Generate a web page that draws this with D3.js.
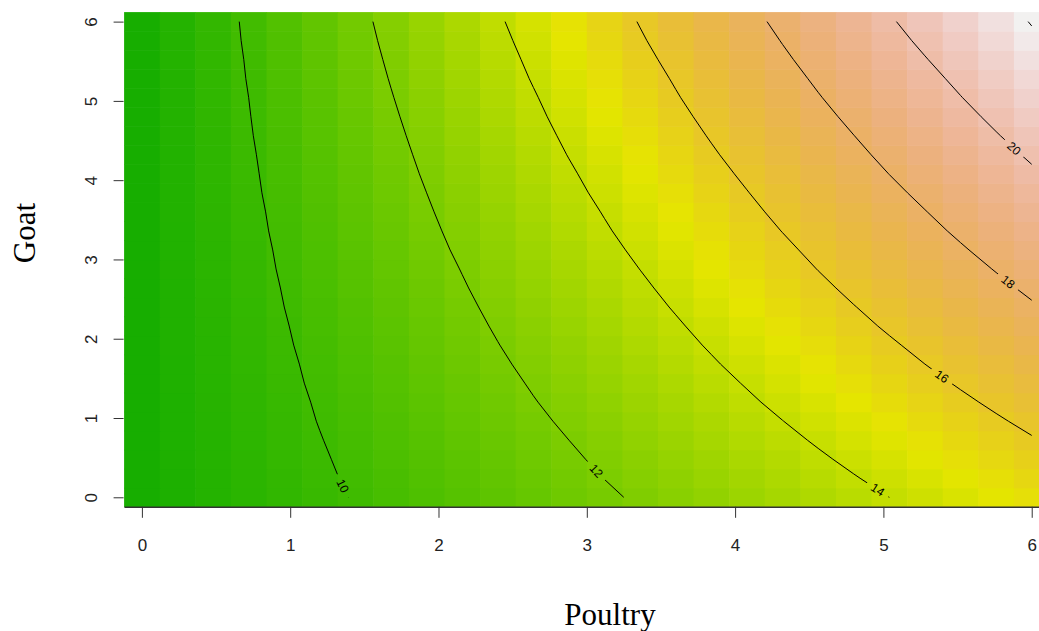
<!DOCTYPE html>
<html>
<head>
<meta charset="utf-8">
<script src="https://cdn.jsdelivr.net/npm/d3@7"></script>
<style>
body { margin: 0; background: #fff; }
svg { display: block; }
</style>
</head>
<body>
<div id="chart"></div>
<script>
// grid values (cell centres) on both axes
const poultry = [0, 0.24, 0.48, 0.72, 0.96, 1.2, 1.44, 1.68, 1.92, 2.16, 2.4, 2.64, 2.88,
                 3.12, 3.36, 3.6, 3.84, 4.08, 4.32, 4.56, 4.8, 5.04, 5.28, 5.52, 5.76, 6];
const goat = [0, 0.24, 0.48, 0.72, 0.96, 1.2, 1.44, 1.68, 1.92, 2.16, 2.4, 2.64, 2.88,
              3.12, 3.36, 3.6, 3.84, 4.08, 4.32, 4.56, 4.8, 5.04, 5.28, 5.52, 5.76, 6];

// one row per goat value (bottom to top), one entry per poultry value
const zRows = [
  [8.55, 8.80, 9.05, 9.30, 9.55, 9.80, 10.05, 10.31, 10.56, 10.82, 11.08, 11.34, 11.60, 11.86, 12.12, 12.39, 12.65, 12.92, 13.19, 13.45, 13.72, 14.00, 14.27, 14.54, 14.81, 15.09],
  [8.55, 8.81, 9.07, 9.33, 9.59, 9.86, 10.12, 10.39, 10.65, 10.92, 11.19, 11.46, 11.73, 12.01, 12.28, 12.56, 12.83, 13.11, 13.39, 13.67, 13.95, 14.23, 14.51, 14.80, 15.08, 15.37],
  [8.55, 8.82, 9.09, 9.36, 9.64, 9.91, 10.19, 10.47, 10.74, 11.02, 11.30, 11.59, 11.87, 12.15, 12.44, 12.72, 13.01, 13.30, 13.59, 13.88, 14.17, 14.47, 14.76, 15.06, 15.35, 15.65],
  [8.55, 8.83, 9.11, 9.40, 9.68, 9.97, 10.26, 10.54, 10.83, 11.12, 11.42, 11.71, 12.00, 12.30, 12.60, 12.89, 13.19, 13.49, 13.79, 14.09, 14.40, 14.70, 15.01, 15.32, 15.62, 15.93],
  [8.55, 8.84, 9.14, 9.43, 9.73, 10.03, 10.32, 10.62, 10.92, 11.23, 11.53, 11.83, 12.14, 12.45, 12.75, 13.06, 13.37, 13.68, 13.99, 14.31, 14.62, 14.94, 15.26, 15.57, 15.89, 16.21],
  [8.55, 8.85, 9.16, 9.47, 9.77, 10.08, 10.39, 10.70, 11.01, 11.33, 11.64, 11.96, 12.27, 12.59, 12.91, 13.23, 13.55, 13.87, 14.20, 14.52, 14.85, 15.17, 15.50, 15.83, 16.16, 16.49],
  [8.55, 8.87, 9.18, 9.50, 9.82, 10.14, 10.46, 10.78, 11.10, 11.43, 11.75, 12.08, 12.41, 12.74, 13.07, 13.40, 13.73, 14.06, 14.40, 14.74, 15.07, 15.41, 15.75, 16.09, 16.43, 16.77],
  [8.55, 8.88, 9.20, 9.53, 9.86, 10.19, 10.53, 10.86, 11.19, 11.53, 11.87, 12.20, 12.54, 12.88, 13.22, 13.57, 13.91, 14.26, 14.60, 14.95, 15.30, 15.65, 16.00, 16.35, 16.70, 17.06],
  [8.55, 8.89, 9.23, 9.57, 9.91, 10.25, 10.59, 10.94, 11.28, 11.63, 11.98, 12.33, 12.68, 13.03, 13.38, 13.74, 14.09, 14.45, 14.80, 15.16, 15.52, 15.88, 16.24, 16.61, 16.97, 17.34],
  [8.55, 8.90, 9.25, 9.60, 9.95, 10.31, 10.66, 11.02, 11.37, 11.73, 12.09, 12.45, 12.81, 13.18, 13.54, 13.90, 14.27, 14.64, 15.01, 15.38, 15.75, 16.12, 16.49, 16.87, 17.24, 17.62],
  [8.55, 8.91, 9.27, 9.63, 10.00, 10.36, 10.73, 11.09, 11.46, 11.83, 12.20, 12.57, 12.95, 13.32, 13.70, 14.07, 14.45, 14.83, 15.21, 15.59, 15.97, 16.35, 16.74, 17.12, 17.51, 17.90],
  [8.55, 8.92, 9.29, 9.67, 10.04, 10.42, 10.80, 11.17, 11.55, 11.93, 12.32, 12.70, 13.08, 13.47, 13.85, 14.24, 14.63, 15.02, 15.41, 15.80, 16.20, 16.59, 16.99, 17.38, 17.78, 18.18],
  [8.55, 8.93, 9.32, 9.70, 10.09, 10.47, 10.86, 11.25, 11.64, 12.03, 12.43, 12.82, 13.22, 13.61, 14.01, 14.41, 14.81, 15.21, 15.61, 16.02, 16.42, 16.83, 17.23, 17.64, 18.05, 18.46],
  [8.55, 8.94, 9.34, 9.73, 10.13, 10.53, 10.93, 11.33, 11.73, 12.14, 12.54, 12.95, 13.35, 13.76, 14.17, 14.58, 14.99, 15.40, 15.81, 16.23, 16.64, 17.06, 17.48, 17.90, 18.32, 18.74],
  [8.55, 8.96, 9.36, 9.77, 10.18, 10.59, 11.00, 11.41, 11.82, 12.24, 12.65, 13.07, 13.49, 13.91, 14.33, 14.75, 15.17, 15.59, 16.02, 16.44, 16.87, 17.30, 17.73, 18.16, 18.59, 19.02],
  [8.55, 8.97, 9.38, 9.80, 10.22, 10.64, 11.06, 11.49, 11.91, 12.34, 12.76, 13.19, 13.62, 14.05, 14.48, 14.91, 15.35, 15.78, 16.22, 16.66, 17.09, 17.53, 17.97, 18.42, 18.86, 19.30],
  [8.55, 8.98, 9.41, 9.84, 10.27, 10.70, 11.13, 11.57, 12.00, 12.44, 12.88, 13.32, 13.76, 14.20, 14.64, 15.08, 15.53, 15.97, 16.42, 16.87, 17.32, 17.77, 18.22, 18.67, 19.13, 19.58],
  [8.55, 8.99, 9.43, 9.87, 10.31, 10.76, 11.20, 11.65, 12.09, 12.54, 12.99, 13.44, 13.89, 14.34, 14.80, 15.25, 15.71, 16.16, 16.62, 17.08, 17.54, 18.01, 18.47, 18.93, 19.40, 19.86],
  [8.55, 9.00, 9.45, 9.90, 10.36, 10.81, 11.27, 11.72, 12.18, 12.64, 13.10, 13.56, 14.03, 14.49, 14.95, 15.42, 15.89, 16.36, 16.83, 17.30, 17.77, 18.24, 18.72, 19.19, 19.67, 20.14],
  [8.55, 9.01, 9.47, 9.94, 10.40, 10.87, 11.33, 11.80, 12.27, 12.74, 13.21, 13.69, 14.16, 14.64, 15.11, 15.59, 16.07, 16.55, 17.03, 17.51, 17.99, 18.48, 18.96, 19.45, 19.94, 20.43],
  [8.55, 9.02, 9.50, 9.97, 10.45, 10.92, 11.40, 11.88, 12.36, 12.84, 13.33, 13.81, 14.30, 14.78, 15.27, 15.76, 16.25, 16.74, 17.23, 17.72, 18.22, 18.71, 19.21, 19.71, 20.21, 20.71],
  [8.55, 9.03, 9.52, 10.00, 10.49, 10.98, 11.47, 11.96, 12.45, 12.94, 13.44, 13.93, 14.43, 14.93, 15.43, 15.93, 16.43, 16.93, 17.43, 17.94, 18.44, 18.95, 19.46, 19.97, 20.48, 20.99],
  [8.55, 9.04, 9.54, 10.04, 10.54, 11.04, 11.54, 12.04, 12.54, 13.05, 13.55, 14.06, 14.56, 15.07, 15.58, 16.09, 16.61, 17.12, 17.63, 18.15, 18.67, 19.18, 19.70, 20.22, 20.75, 21.27],
  [8.55, 9.06, 9.56, 10.07, 10.58, 11.09, 11.60, 12.12, 12.63, 13.15, 13.66, 14.18, 14.70, 15.22, 15.74, 16.26, 16.79, 17.31, 17.84, 18.36, 18.89, 19.42, 19.95, 20.48, 21.01, 21.55],
  [8.55, 9.07, 9.59, 10.11, 10.63, 11.15, 11.67, 12.20, 12.72, 13.25, 13.78, 14.30, 14.83, 15.37, 15.90, 16.43, 16.97, 17.50, 18.04, 18.58, 19.12, 19.66, 20.20, 20.74, 21.28, 21.83],
  [8.55, 9.08, 9.61, 10.14, 10.67, 11.20, 11.74, 12.27, 12.81, 13.35, 13.89, 14.43, 14.97, 15.51, 16.05, 16.60, 17.15, 17.69, 18.24, 18.79, 19.34, 19.89, 20.44, 21.00, 21.55, 22.05]
];

const levels = [10, 12, 14, 16, 18, 20, 22];
// where the contour labels sit
const labelLevels = [10, 12, 14, 16, 18, 20];
const labelPoultry = [1.35, 3.05, 4.96, 5.40, 5.85, 5.89];
const labelGoat = [0.14, 0.31, 0.09, 1.54, 2.74, 4.42];

const xTicks = [0, 1, 2, 3, 4, 5, 6];
const yTicks = [0, 1, 2, 3, 4, 5, 6];

// R terrain.colors ramp: green -> yellow -> tan -> white
function terrain(f) {
    f = Math.max(0, Math.min(1, f));
    let h, s, v;
    if (f < 0.5) { let g = f / 0.5; h = 1 / 3 - g / 6; s = 1; v = 0.65 + 0.25 * g; }
    else { let g = (f - 0.5) / 0.5; h = 1 / 6 - g / 6; s = 1 - g; v = 0.9 + 0.05 * g; }
    let i = Math.floor(h * 6), fr = h * 6 - i;
    let p = v * (1 - s), q = v * (1 - fr * s), t = v * (1 - (1 - fr) * s);
    let rgb = [[v, t, p], [q, v, p], [p, v, t], [p, q, v], [t, p, v], [v, p, q]][((i % 6) + 6) % 6];
    return d3.rgb(rgb[0] * 255, rgb[1] * 255, rgb[2] * 255).formatHex();
}

function drawImageContour() {
    d3.select("#chart").selectAll("*").remove();
    const W = 1039, H = 631;
    let svg = d3.select("#chart").append("svg").attr("width", W).attr("height", H);

    let nx = poultry.length, ny = goat.length;
    let hx = (poultry[1] - poultry[0]) / 2, hy = (goat[1] - goat[0]) / 2;
    let x = d3.scaleLinear().domain([poultry[0] - hx, poultry[nx - 1] + hx]).range([124.1, 1049.5]);
    let y = d3.scaleLinear().domain([goat[0] - hy, goat[ny - 1] + hy]).range([506.8, 12.1]);
    let color = d3.scaleSequential(terrain).domain([7.6, 22.1]);

    // image cells
    let cells = [];
    zRows.forEach((row, j) => row.forEach((z, i) => cells.push({ p: poultry[i], g: goat[j], z: z })));
    svg.append("g").selectAll("rect").data(cells).join("rect")
        .attr("x", d => x(d.p - hx))
        .attr("y", d => y(d.g + hy))
        .attr("width", d => x(d.p + hx) - x(d.p - hx) + 0.6)
        .attr("height", d => y(d.g - hy) - y(d.g + hy) + 0.6)
        .attr("fill", d => color(d.z));

    // contour lines from d3.contours, boundary parts of the rings dropped
    let gx = d3.scaleLinear().domain([0.5, nx - 0.5]).range([poultry[0], poultry[nx - 1]]);
    let gy = d3.scaleLinear().domain([0.5, ny - 0.5]).range([goat[0], goat[ny - 1]]);
    let sets = d3.contours().size([nx, ny]).thresholds(levels)(zRows.flat());
    let onEdge = pt => pt[0] <= 1e-6 || pt[0] >= nx - 1e-6 || pt[1] <= 1e-6 || pt[1] >= ny - 1e-6;

    function openLines(ring) {
        let start = ring.findIndex(onEdge);
        if (start < 0) return [ring];
        let out = [], cur = [];
        for (let k = 1; k <= ring.length; k++) {
            let pt = ring[(start + k) % ring.length];
            if (onEdge(pt)) { if (cur.length > 1) out.push(cur); cur = []; }
            else cur.push(pt);
        }
        if (cur.length > 1) out.push(cur);
        return out;
    }

    let lines = [];
    sets.forEach(c => c.coordinates.forEach(poly => poly.forEach(ring => {
        openLines(ring).forEach(l => lines.push({
            level: c.value,
            pts: l.map(pt => [x(gx(pt[0])), y(gy(pt[1]))])
        }));
    })));

    // label placement: nearest point on the level's line, rotated along it
    let labels = [];
    labelLevels.forEach((lev, k) => {
        let tx = x(labelPoultry[k]), ty = y(labelGoat[k]);
        let best = null;
        lines.filter(l => l.level === lev).forEach(l => {
            for (let s = 0; s < l.pts.length - 1; s++) {
                let a = l.pts[s], b = l.pts[s + 1];
                let dx = b[0] - a[0], dy = b[1] - a[1], len2 = dx * dx + dy * dy;
                if (len2 === 0) continue;
                let t = Math.max(0, Math.min(1, ((tx - a[0]) * dx + (ty - a[1]) * dy) / len2));
                let px = a[0] + t * dx, py = a[1] + t * dy;
                let d = (px - tx) ** 2 + (py - ty) ** 2;
                if (!best || d < best.d) best = { d: d, px: px, py: py, ang: Math.atan2(dy, dx) * 180 / Math.PI };
            }
        });
        if (!best) return;
        let ang = best.ang;
        if (ang > 90) ang -= 180;
        if (ang < -90) ang += 180;
        labels.push({ text: String(lev), px: best.px, py: best.py, ang: ang });
    });

    let mask = svg.append("defs").append("mask").attr("id", "gaps")
        .attr("maskUnits", "userSpaceOnUse")
        .attr("x", 0).attr("y", 0).attr("width", W).attr("height", H);
    mask.append("rect").attr("width", W).attr("height", H).attr("fill", "white");
    labels.forEach(l => {
        let w = l.text.length * 6.7 + 12;
        mask.append("rect")
            .attr("x", -w / 2).attr("y", -6).attr("width", w).attr("height", 12)
            .attr("transform", `translate(${l.px},${l.py}) rotate(${l.ang})`)
            .attr("fill", "black");
    });

    svg.append("g").attr("mask", "url(#gaps)")
        .selectAll("path").data(lines).join("path")
        .attr("d", d => d3.line()(d.pts))
        .attr("fill", "none")
        .attr("stroke", "#000")
        .attr("stroke-width", 1);

    svg.append("g").selectAll("text").data(labels).join("text")
        .attr("transform", d => `translate(${d.px},${d.py}) rotate(${d.ang})`)
        .attr("text-anchor", "middle")
        .attr("dy", "0.35em")
        .style("font-family", "'Liberation Sans', Arial, sans-serif")
        .style("font-size", "12px")
        .style("fill", "#000")
        .text(d => d.text);

    // axes
    let axisCol = "#333";
    let xAxis = svg.append("g").attr("transform", `translate(0,${y.range()[0]})`)
        .call(d3.axisBottom(x).tickValues(xTicks).tickSize(11).tickSizeOuter(0).tickPadding(21).tickFormat(d3.format("d")));
    xAxis.select(".domain").attr("stroke", axisCol).attr("stroke-width", 1.5);
    xAxis.selectAll(".tick line").attr("stroke", axisCol);
    xAxis.selectAll(".tick text")
        .style("font-family", "'Liberation Sans', Arial, sans-serif")
        .style("font-size", "17px").style("fill", "#222");

    let yAxis = svg.append("g").attr("transform", `translate(${x.range()[0] - 0.5},0)`)
        .call(d3.axisLeft(y).tickValues(yTicks).tickSize(10).tickSizeOuter(0).tickFormat(d3.format("d")));
    yAxis.select(".domain").remove();
    yAxis.selectAll(".tick line").attr("stroke", axisCol);
    yAxis.selectAll(".tick text")
        .attr("x", null).attr("dy", null)
        .attr("text-anchor", "middle")
        .attr("transform", "translate(-26.6,0) rotate(-90)")
        .style("font-family", "'Liberation Sans', Arial, sans-serif")
        .style("font-size", "17px").style("fill", "#222");

    // axis titles
    svg.append("text")
        .attr("x", 610).attr("y", 625)
        .attr("text-anchor", "middle")
        .style("font-family", "'Liberation Serif', 'Times New Roman', serif")
        .style("font-size", "31px")
        .text("Poultry");

    svg.append("text")
        .attr("transform", "translate(35,233) rotate(-90)")
        .attr("text-anchor", "middle")
        .style("font-family", "'Liberation Serif', 'Times New Roman', serif")
        .style("font-size", "31px")
        .text("Goat");
}

drawImageContour();
</script>
</body>
</html>
